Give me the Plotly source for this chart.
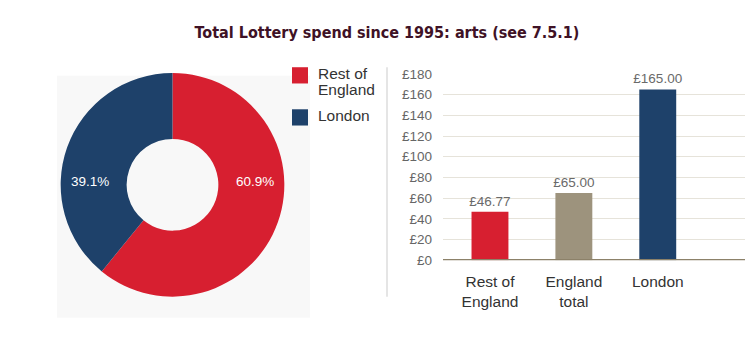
import plotly.graph_objects as go

# ---- data ----
pie_labels = ["Rest of<br>England", "London"]
pie_values = [60.9, 39.1]
pie_colors = ["#d71f30", "#1e416a"]

bar_categories = ["Rest of<br>England", "England<br>total", "London"]
bar_values = [46.77, 65.00, 165.00]
bar_text = ["£46.77", "£65.00", "£165.00"]
bar_colors = ["#d71f30", "#9d937d", "#1e416a"]

y_ticks = [0, 20, 40, 60, 80, 100, 120, 140, 160, 180]
y_ticklabels = ["£" + str(v) for v in y_ticks]

title_text = "Total Lottery spend since 1995: arts (see 7.5.1)"

W, H = 754, 340
FONT = "Liberation Sans, Arial, sans-serif"

fig = go.Figure()

fig.add_trace(go.Pie(
    labels=pie_labels,
    values=pie_values,
    marker=dict(colors=pie_colors, line=dict(width=0)),
    hole=0.41,
    sort=False,
    direction="clockwise",
    rotation=0,
    textinfo="none",
    domain=dict(x=[55.5 / W, 289.5 / W], y=[1 - 303 / H, 1 - 69 / H]),
    showlegend=False,
    hoverinfo="label+percent",
))

fig.add_trace(go.Bar(
    x=bar_categories,
    y=bar_values,
    text=bar_text,
    textposition="outside",
    constraintext="none",
    textfont=dict(family=FONT, size=13.5, color="#6a6a6a"),
    cliponaxis=False,
    marker=dict(color=bar_colors, line=dict(width=0)),
    width=0.44,
    showlegend=False,
    xaxis="x",
    yaxis="y",
))

annotations = []
shapes = [
    # light panel behind the doughnut
    dict(type="rect", xref="paper", yref="paper",
         x0=57 / W, x1=310 / W, y0=1 - 325 / H, y1=1 - 72 / H,
         fillcolor="#f8f8f8", line=dict(width=0), layer="below"),
    # separator line
    dict(type="line", xref="paper", yref="paper",
         x0=387 / W, x1=387 / W, y0=1 - 303 / H, y1=1 - 63 / H,
         line=dict(color="#dddddd", width=1.5)),
    # base line of the bar chart
    dict(type="line", xref="paper", yref="y",
         x0=443 / W, x1=745 / W, y0=0, y1=0,
         line=dict(color="#8c8169", width=2.5), layer="above"),
]

# percentage labels on the doughnut (horizontal through centre, mid-ring)
cx, cy, r_mid = 172.5, 183, 82.5
for i, v in enumerate(pie_values):
    side = 1 if i == 0 else -1
    annotations.append(dict(
        x=(cx + side * r_mid) / W, y=1 - cy / H, xref="paper", yref="paper",
        text=f"{v:.1f}%", showarrow=False, xanchor="center", yanchor="middle",
        font=dict(family=FONT, size=13.5, color="white"),
    ))

# manual legend
leg_x = 292
row_tops = [63, 107]
for i, lab in enumerate(pie_labels):
    top = row_tops[i]
    shapes.append(dict(type="rect", xref="paper", yref="paper",
                       x0=leg_x / W, x1=(leg_x + 16) / W,
                       y0=1 - (top + 17) / H, y1=1 - top / H,
                       fillcolor=pie_colors[i], line=dict(width=0)))
    for j, line in enumerate(lab.split("<br>")):
        annotations.append(dict(
            x=316 / W, y=1 - (top + 7 + 16 * j) / H, xref="paper", yref="paper",
            text=line, showarrow=False, xanchor="left", yanchor="middle",
            font=dict(family=FONT, size=15.5, color="#333333"),
        ))

fig.update_layout(
    width=W, height=H,
    margin=dict(l=0, r=0, t=0, b=0),
    paper_bgcolor="white",
    plot_bgcolor="rgba(0,0,0,0)",
    title=dict(
        text="<b>" + title_text + "</b>",
        x=387 / W, xanchor="center",
        y=1 - 32 / H, yanchor="middle",
        font=dict(family="DejaVu Sans Condensed, DejaVu Sans", size=16, color="#3f1226"),
    ),
    xaxis=dict(
        domain=[443 / W, 745 / W],
        range=[-0.56, 3.04],
        type="category",
        showgrid=False,
        showline=False,
        zeroline=False,
        ticks="",
        ticklabelstandoff=10,
        tickfont=dict(family=FONT, size=15.5, color="#333333"),
    ),
    yaxis=dict(
        domain=[1 - 265 / H, 1 - 70 / H],
        range=[0, 180],
        tickvals=y_ticks,
        ticktext=y_ticklabels,
        showgrid=True,
        gridcolor="#e6e3da",
        gridwidth=1.2,
        zeroline=False,
        showline=False,
        ticks="",
        ticklabelstandoff=10,
        tickfont=dict(family=FONT, size=13.5, color="#666666"),
    ),
    shapes=shapes,
    annotations=annotations,
)

fig.write_html("out.html")
